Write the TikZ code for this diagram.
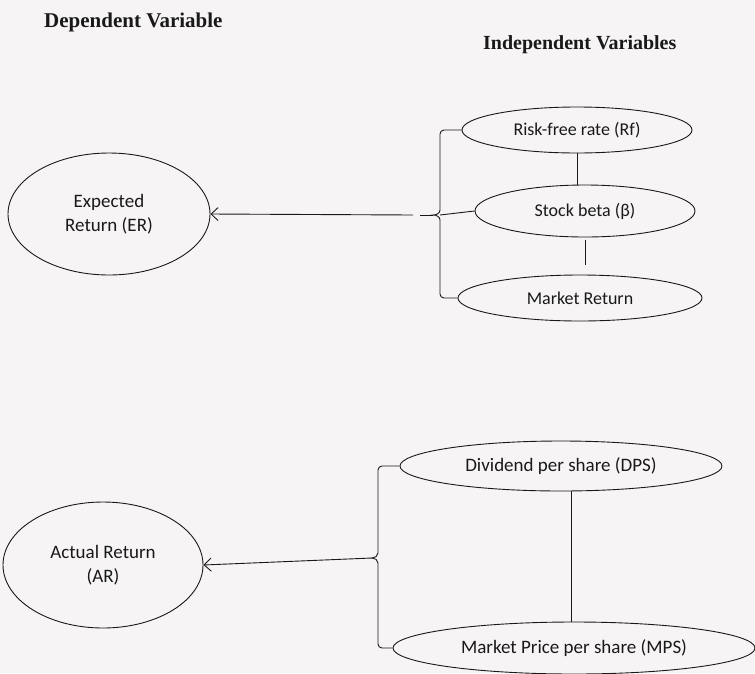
\documentclass[tikz,border=0pt]{standalone}
\usepackage{fontspec}
\setmainfont{Carlito}
\newfontfamily\headfont{Liberation Serif}
\usetikzlibrary{shapes.geometric,arrows.meta}
\definecolor{paper}{RGB}{247,244,245}
\definecolor{ink}{RGB}{25,25,25}
\tikzset{
  var/.style={draw=ink, line width=0.9pt, ellipse, inner sep=0pt, align=center,
    font=\fontsize{19}{24}\selectfont, text=ink},
  head/.style={font=\headfont\bfseries, text=ink, inner sep=0pt},
  conn/.style={draw=ink, line width=0.9pt},
  brk/.style={conn, rounded corners=4pt},
  arr/.style={conn, -{Straight Barb[length=7pt,width=13pt]}},
}
\begin{document}
\begin{tikzpicture}[x=1pt,y=-1pt]
\fill[paper] (0,0) rectangle (755,673);
\useasboundingbox (0,0) rectangle (755,673);

% headings
\node[head, anchor=west, font=\headfont\bfseries\fontsize{21}{24}\selectfont] (hd) at (44,22) {Dependent Variable};
\node[head, anchor=west, font=\headfont\bfseries\fontsize{20}{24}\selectfont] (hi) at (483,45) {Independent Variables};

% upper group
\node[var, minimum width=202pt, minimum height=122pt] (ER) at (109,214) {Expected\\Return (ER)};
\node[var, minimum width=230pt, minimum height=46pt, font=\fontsize{18}{22}\selectfont] (Rf) at (577,130) {Risk-free rate (Rf)};
\node[var, minimum width=220pt, minimum height=52pt, font=\fontsize{18}{22}\selectfont] (SB) at (585,211) {Stock beta (β)};
\node[var, minimum width=244pt, minimum height=46pt, font=\fontsize{18}{22}\selectfont] (MR) at (580,298) {Market Return};

\coordinate (b1p) at (433,215);
\coordinate (b1g) at (420,215);
\coordinate (b1a) at (413,215);
\coordinate (b1t) at (440,210);
\coordinate (b1u) at (440,220);

\draw[brk] (Rf.west) -| (b1t);
\draw[conn] (b1t) to[out=270,in=0] (b1p) to[out=0,in=90] (b1u);
\draw[brk] (b1u) |- (MR.west);
\draw[conn] (440,215) -- (SB.west);
\draw[conn] (b1p) -- (b1g);
\draw[arr] (b1a) -- (ER.east);
\draw[conn] (Rf.south) -- (Rf.south |- SB.north);
\draw[conn, shorten <=3pt, shorten >=10pt] (SB.south) -- (SB.south |- MR.north);

% lower group
\node[var, minimum width=200pt, minimum height=126pt] (AR) at (103,565) {Actual Return\\(AR)};
\node[var, minimum width=322pt, minimum height=50pt] (DPS) at (561,466) {Dividend per share (DPS)};
\node[var, minimum width=362pt, minimum height=52pt] (MPS) at (574,648) {Market Price per share (MPS)};

\coordinate (b2p) at (372,558);
\coordinate (b2t) at (378,553);
\coordinate (b2u) at (378,563);
\draw[brk] (DPS.west) -| (b2t);
\draw[conn] (b2t) to[out=270,in=0] (b2p) to[out=0,in=90] (b2u);
\draw[brk] (b2u) |- (MPS.west);
\draw[arr] (b2p) -- (AR.east);
\draw[conn] (DPS.south) ++(10,0) coordinate (dv) -- (dv |- MPS.north);
\end{tikzpicture}
\end{document}
